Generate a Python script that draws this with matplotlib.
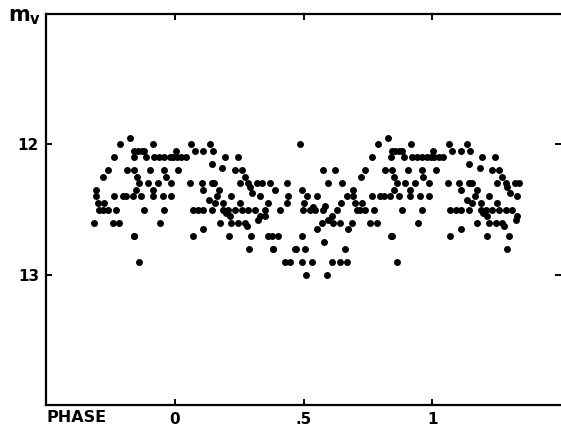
import numpy as np
import matplotlib.pyplot as plt

# phase / magnitude pairs (one cycle, 0..1)
phase = [
    0.065, 0.136, 0.004, 0.078, 0.110, 0.147, 0.007, 0.026, 0.043, 0.195, 0.244,
    0.143, 0.184, 0.013, 0.233, 0.260, 0.272,
    0.061, 0.104, 0.143, 0.153, 0.253, 0.285, 0.320, 0.337, 0.292,
    0.110, 0.172, 0.166, 0.220, 0.331, 0.134, 0.156, 0.188, 0.253,
    0.069, 0.091, 0.110, 0.143, 0.188, 0.207, 0.233, 0.260, 0.285, 0.311,
    0.198, 0.214, 0.331, 0.175, 0.220, 0.246, 0.272, 0.325, 0.279, 0.110,
    0.069, 0.211, 0.298, 0.289,
    0.486, 0.577, 0.623, 0.594, 0.370, 0.435, 0.650, 0.389, 0.493, 0.300,
    0.441, 0.512, 0.551, 0.363, 0.435, 0.503, 0.538, 0.584, 0.646,
    0.350, 0.409, 0.499, 0.525, 0.545, 0.577, 0.629, 0.610, 0.597, 0.616,
    0.642, 0.571, 0.352, 0.551, 0.361, 0.376, 0.400, 0.493, 0.581,
    0.383, 0.467, 0.506, 0.661, 0.428, 0.447, 0.493, 0.532, 0.610, 0.642,
    0.508, 0.590, 0.380, 0.471,
    0.827, 0.789, 0.917, 0.843, 0.857, 0.871, 0.882, 0.840, 0.889,
    0.765, 0.921, 0.940, 0.960, 0.980, 0.995,
    0.739, 0.722, 0.815, 0.843, 0.905, 0.960, 0.966, 0.853,
    0.862, 0.895, 0.934, 0.986, 0.694, 0.850, 0.914,
    0.668, 0.694, 0.765, 0.798, 0.811, 0.837, 0.869, 0.914, 0.953, 0.986,
    0.700, 0.726, 0.707, 0.720, 0.739, 0.772, 0.882, 0.960,
    0.759, 0.785, 0.943, 0.687, 0.674, 0.840, 0.668, 0.862, 0.843,
]
mag = [
    12.00, 12.00, 12.05, 12.05, 12.05, 12.05, 12.10, 12.10, 12.10, 12.10, 12.10,
    12.15, 12.18, 12.20, 12.20, 12.20, 12.25,
    12.30, 12.30, 12.30, 12.30, 12.30, 12.30, 12.30, 12.30, 12.33,
    12.35, 12.35, 12.40, 12.40, 12.40, 12.43, 12.45, 12.45, 12.45,
    12.50, 12.50, 12.50, 12.50, 12.50, 12.50, 12.50, 12.50, 12.50, 12.50,
    12.53, 12.55, 12.55, 12.60, 12.60, 12.60, 12.60, 12.58, 12.63, 12.65,
    12.70, 12.70, 12.70, 12.80,
    12.00, 12.20, 12.20, 12.30, 12.30, 12.30, 12.30, 12.35, 12.35, 12.37,
    12.40, 12.40, 12.40, 12.45, 12.45, 12.45, 12.48, 12.47, 12.45,
    12.50, 12.50, 12.50, 12.50, 12.50, 12.50, 12.50, 12.55, 12.58, 12.60,
    12.60, 12.60, 12.55, 12.65, 12.70, 12.70, 12.70, 12.70, 12.75,
    12.80, 12.80, 12.80, 12.80, 12.90, 12.90, 12.90, 12.90, 12.90, 12.90,
    13.00, 13.00, 12.80, 12.80,
    11.95, 12.00, 12.00, 12.05, 12.05, 12.05, 12.05, 12.10, 12.10,
    12.10, 12.10, 12.10, 12.10, 12.10, 12.10,
    12.20, 12.25, 12.20, 12.20, 12.20, 12.20, 12.25, 12.25,
    12.30, 12.30, 12.30, 12.30, 12.35, 12.35, 12.35,
    12.40, 12.40, 12.40, 12.40, 12.40, 12.40, 12.40, 12.40, 12.40, 12.40,
    12.45, 12.45, 12.50, 12.50, 12.50, 12.50, 12.50, 12.50,
    12.60, 12.60, 12.60, 12.60, 12.65, 12.70, 12.90, 12.90, 12.70,
]

phase = np.array(phase)
mag = np.array(mag)

# repeat part of the cycle on both sides
left = phase > 0.68
right = phase < 0.34
x = np.concatenate([phase, phase[left] - 1, phase[right] + 1])
y = np.concatenate([mag, mag[left], mag[right]])

fig = plt.figure(figsize=(5.61, 4.32), dpi=100)
ax = fig.add_axes([0.082, 0.0625, 0.918, 0.905])

ax.plot(x, y, "o", color="black", markersize=5.0, markeredgewidth=0)

ax.set_xlim(-0.5, 1.5)
ax.set_ylim(14, 11)
ax.set_xticks([0, 0.5, 1])
ax.set_xticklabels(["0", ".5", "1"])
ax.set_yticks([12, 13])
ax.set_yticklabels(["12", "13"])

for s in ["left", "bottom", "top"]:
    ax.spines[s].set_linewidth(1.6)
ax.spines["right"].set_visible(False)

ax.tick_params(direction="in", length=4, width=1.4, top=True, right=True,
               labelsize=11, pad=5)
for lab in ax.get_xticklabels() + ax.get_yticklabels():
    lab.set_fontweight("bold")

fig.text(46 / 561, 1 - 418 / 432, "PHASE", fontsize=11.5, fontweight="bold",
         ha="left", va="center")
fig.text(8 / 561, 1 - 17 / 432, r"$\mathbf{m}_{\mathbf{v}}$", fontsize=15,
         ha="left", va="center")

fig.savefig("out.png", dpi=100)
